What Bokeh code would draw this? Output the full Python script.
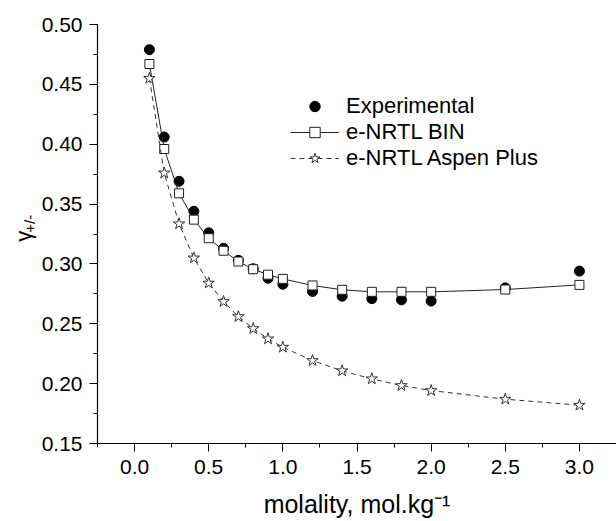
import math
from bokeh.plotting import figure
from bokeh.layouts import row
from bokeh.models import (Range1d, SingleIntervalTicker, PrintfTickFormatter,
                          Legend, LegendItem)
from bokeh.core.properties import value
from bokeh.embed import file_html
from bokeh.resources import INLINE

# ---- data ----
molality = [0.1, 0.2, 0.3, 0.4, 0.5, 0.6, 0.7, 0.8, 0.9, 1.0,
            1.2, 1.4, 1.6, 1.8, 2.0, 2.5, 3.0]
experimental = [0.479, 0.406, 0.369, 0.344, 0.326, 0.313, 0.303, 0.296, 0.288, 0.283,
                0.277, 0.273, 0.271, 0.270, 0.269, 0.280, 0.294]
enrtl_bin = [0.467, 0.396, 0.359, 0.337, 0.3215, 0.311, 0.302, 0.2956, 0.291, 0.2875,
             0.282, 0.2784, 0.2767, 0.2767, 0.2767, 0.2786, 0.2825]
enrtl_aspen = [0.455, 0.376, 0.3335, 0.305, 0.284, 0.2686, 0.256, 0.246, 0.2374, 0.2304,
               0.2193, 0.2107, 0.204, 0.1984, 0.1942, 0.187, 0.182]
series_names = ["Experimental", "e-NRTL BIN", "e-NRTL Aspen Plus"]
x_label = "molality, mol.kg\u207b\u00b9"
y_label_main = "\u03b3"
y_label_sub = "+/-"

FONT = "Liberation Sans"
H = 521
LABEL_W = 38

# ---- strip holding the rotated y-axis title ----
lab = figure(width=LABEL_W, height=H, output_backend="svg", toolbar_location=None,
             x_range=Range1d(0, LABEL_W), y_range=Range1d(0, H),
             x_axis_location=None, y_axis_location=None,
             min_border=0, min_border_left=0, min_border_right=0,
             min_border_top=0, min_border_bottom=0)
lab.outline_line_color = None
lab.xgrid.visible = False
lab.ygrid.visible = False
lab.text(x=[23], y=[H - 270], text=[y_label_main], angle=math.pi / 2,
         text_font=value(FONT), text_font_size="22px", text_color="black",
         text_align="left", text_baseline="alphabetic")
lab.text(x=[28.5], y=[H - 259], text=[y_label_sub], angle=math.pi / 2,
         text_font=value(FONT), text_font_size="15px", text_color="black",
         text_align="left", text_baseline="alphabetic")

# ---- main chart ----
p = figure(width=616 - LABEL_W, height=H, output_backend="svg", toolbar_location=None,
           x_range=Range1d(-0.25, 3.25), y_range=Range1d(0.15, 0.50),
           min_border_left=96 - LABEL_W, min_border_right=0, min_border_top=24,
           min_border_bottom=78)
p.outline_line_color = None
p.xgrid.visible = False
p.ygrid.visible = False
p.background_fill_color = "white"

for ax in (p.xaxis[0], p.yaxis[0]):
    ax.axis_line_color = "black"
    ax.axis_line_width = 1.2
    ax.major_tick_line_color = "black"
    ax.minor_tick_line_color = "black"
    ax.major_tick_in = 0
    ax.major_tick_out = 8
    ax.minor_tick_in = 0
    ax.minor_tick_out = 4
    ax.major_label_text_font = FONT
    ax.major_label_text_font_size = "21px"
    ax.major_label_text_color = "black"

p.xaxis[0].ticker = SingleIntervalTicker(interval=0.5, num_minor_ticks=2)
p.yaxis[0].ticker = SingleIntervalTicker(interval=0.05, num_minor_ticks=2)
p.xaxis[0].formatter = PrintfTickFormatter(format="%.1f")
p.yaxis[0].formatter = PrintfTickFormatter(format="%.2f")
p.xaxis[0].major_label_standoff = 8
p.yaxis[0].major_label_standoff = 7

p.xaxis[0].axis_label = x_label
p.xaxis[0].axis_label_text_font = FONT
p.xaxis[0].axis_label_text_font_size = "25px"
p.xaxis[0].axis_label_text_font_style = "normal"
p.xaxis[0].axis_label_text_color = "black"
p.xaxis[0].axis_label_standoff = 13

r_exp = p.scatter(molality, experimental, marker="circle", size=10,
                  fill_color="black", line_color="black")
r_bin_line = p.line(molality, enrtl_bin, line_color="#222222", line_width=1)
r_bin_pts = p.scatter(molality, enrtl_bin, marker="square", size=9,
                      fill_color="white", line_color="#222222", line_width=1)
r_asp_line = p.line(molality, enrtl_aspen, line_color="#333333", line_width=1,
                    line_dash="5 4")
r_asp_pts = p.scatter(molality, enrtl_aspen, marker="star", size=12,
                      fill_color="white", line_color="#333333", line_width=1)

legend = Legend(items=[
    LegendItem(label=series_names[0], renderers=[r_exp]),
    LegendItem(label=series_names[1], renderers=[r_bin_line, r_bin_pts]),
    LegendItem(label=series_names[2], renderers=[r_asp_line, r_asp_pts]),
], location=(193, 272))
legend.border_line_color = None
legend.background_fill_alpha = 0
legend.padding = 0
legend.margin = 0
legend.spacing = 0
legend.glyph_width = 49
legend.glyph_height = 26
legend.label_height = 26
legend.label_standoff = 7
legend.label_text_font = FONT
legend.label_text_font_size = "22px"
legend.label_text_color = "black"
p.add_layout(legend, "center")

layout = row(lab, p, spacing=0)
open("out.html", "w").write(file_html(layout, INLINE))
